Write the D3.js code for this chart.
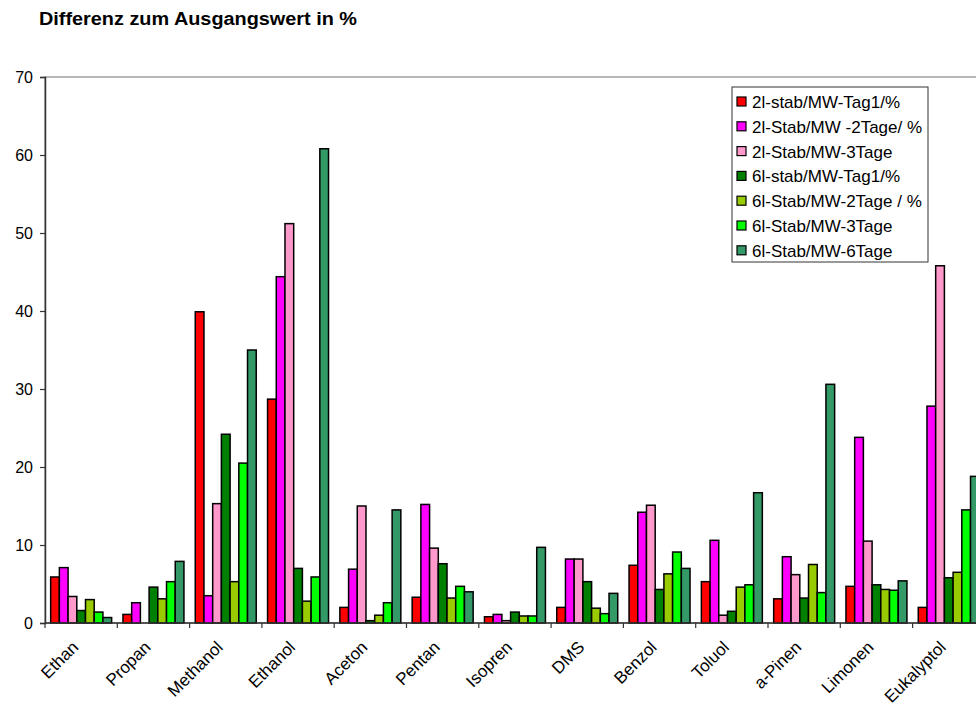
<!DOCTYPE html>
<html>
<head>
<meta charset="utf-8">
<script src="https://cdn.jsdelivr.net/npm/d3@7"></script>
<style>
  html, body { margin: 0; padding: 0; background: #fff; }
  svg { display: block; font-family: Arial, "Liberation Sans", sans-serif; }
</style>
</head>
<body>
<svg id="chart" width="976" height="706"></svg>
<script>
// Substances on the x axis
const categories = ["Ethan", "Propan", "Methanol", "Ethanol", "Aceton", "Pentan", "Isopren",
  "DMS", "Benzol", "Toluol", "a-Pinen", "Limonen", "Eukalyptol"];

// Difference to the starting value in %, one array per series
const s2lTag1  = [5.9, 1.1, 39.9, 28.7, 2.0, 3.3, 0.8, 2.0, 7.4, 5.3, 3.1, 4.7, 2.0];
const s2l2Tage = [7.1, 2.6, 3.5, 44.4, 6.9, 15.2, 1.1, 8.2, 14.2, 10.6, 8.5, 23.8, 27.8];
const s2l3Tage = [3.4, 0, 15.3, 51.2, 15.0, 9.6, 0.3, 8.2, 15.1, 1.0, 6.2, 10.5, 45.8];
const s6lTag1  = [1.6, 4.6, 24.2, 7.0, 0.3, 7.6, 1.4, 5.3, 4.3, 1.5, 3.2, 4.9, 5.8];
const s6l2Tage = [3.0, 3.1, 5.3, 2.8, 1.0, 3.2, 0.9, 1.9, 6.3, 4.6, 7.5, 4.3, 6.5];
const s6l3Tage = [1.4, 5.3, 20.5, 5.9, 2.6, 4.7, 0.9, 1.2, 9.1, 4.9, 3.9, 4.2, 14.5];
const s6l6Tage = [0.7, 7.9, 35.0, 60.8, 14.5, 4.0, 9.7, 3.8, 7.0, 16.7, 30.6, 5.4, 18.8];

const seriesNames = ["2l-stab/MW-Tag1/%", "2l-Stab/MW -2Tage/ %", "2l-Stab/MW-3Tage",
  "6l-stab/MW-Tag1/%", "6l-Stab/MW-2Tage / %", "6l-Stab/MW-3Tage", "6l-Stab/MW-6Tage"];
const seriesValues = [s2lTag1, s2l2Tage, s2l3Tage, s6lTag1, s6l2Tage, s6l3Tage, s6l6Tage];
const seriesColors = ["#ff0000", "#ff00ff", "#ff99cc", "#008000", "#99cc00", "#00ff00", "#339966"];

const yTicks = [0, 10, 20, 30, 40, 50, 60, 70];
const title = "Differenz zum Ausgangswert in %";

const svg = d3.select("#chart");

const plot = { left: 45, top: 77, bottom: 623, catWidth: 72.3 };
plot.right = plot.left + plot.catWidth * categories.length;

const x0 = d3.scaleBand().domain(categories).range([plot.left, plot.right]).padding(0);
const x1 = d3.scaleBand().domain(d3.range(seriesNames.length))
  .range([0, x0.bandwidth()]).paddingInner(0).paddingOuter(0.65);
const y = d3.scaleLinear().domain([0, 70]).range([plot.bottom, plot.top]);

// Title
svg.append("text")
  .attr("x", 39).attr("y", 25)
  .attr("font-size", 17.5).attr("font-weight", "bold")
  .attr("textLength", 318).attr("lengthAdjust", "spacingAndGlyphs")
  .text(title);

// Plot area border
svg.append("rect")
  .attr("x", plot.left).attr("y", plot.top)
  .attr("width", plot.right - plot.left).attr("height", plot.bottom - plot.top)
  .attr("fill", "none").attr("stroke", "#888").attr("stroke-width", 1.2);

// Bars
const groups = svg.append("g").selectAll("g")
  .data(categories)
  .join("g")
  .attr("transform", d => `translate(${x0(d)},0)`);

groups.selectAll("rect")
  .data((d, i) => seriesValues.map((vals, s) => ({ s, v: vals[i] })))
  .join("rect")
  .attr("x", d => x1(d.s))
  .attr("y", d => y(d.v))
  .attr("width", x1.bandwidth())
  .attr("height", d => y(0) - y(d.v))
  .attr("fill", d => seriesColors[d.s])
  .attr("stroke", "#000")
  .attr("stroke-width", 1.5);

// Y axis
const yAxis = d3.axisLeft(y).tickValues(yTicks).tickSize(5).tickPadding(7);
const yg = svg.append("g").attr("transform", `translate(${plot.left},0)`).call(yAxis);
yg.select(".domain").attr("stroke", "#333").attr("stroke-width", 1.5);
yg.selectAll(".tick line").attr("stroke", "#333").attr("stroke-width", 1.2);
yg.selectAll(".tick text").attr("font-size", 16).attr("fill", "#000")
  .attr("font-family", "Arial, 'Liberation Sans', sans-serif");

// X axis: ticks at category boundaries
const xg = svg.append("g");
xg.append("line")
  .attr("x1", plot.left).attr("x2", plot.right)
  .attr("y1", plot.bottom).attr("y2", plot.bottom)
  .attr("stroke", "#333").attr("stroke-width", 1.5);
xg.selectAll("line.tk")
  .data(categories)
  .join("line")
  .attr("class", "tk")
  .attr("x1", d => x0(d)).attr("x2", d => x0(d))
  .attr("y1", plot.bottom).attr("y2", plot.bottom + 5)
  .attr("stroke", "#333").attr("stroke-width", 1.2);

xg.selectAll("text")
  .data(categories)
  .join("text")
  .attr("transform", d => `translate(${x0(d) + x0.bandwidth() / 2 - 6},${plot.bottom + 21}) rotate(-45)`)
  .attr("text-anchor", "end")
  .attr("dy", "0.35em")
  .attr("font-size", 17)
  .text(d => d);

// Legend
const legend = svg.append("g").attr("transform", "translate(732,87)");
legend.append("rect")
  .attr("width", 196).attr("height", 175)
  .attr("fill", "#fff").attr("stroke", "#333").attr("stroke-width", 1);
const items = legend.selectAll("g.item")
  .data(seriesNames)
  .join("g")
  .attr("class", "item")
  .attr("transform", (d, i) => `translate(5,${15 + i * 24.8})`);
items.append("rect")
  .attr("x", 0).attr("y", -5)
  .attr("width", 9).attr("height", 9)
  .attr("fill", (d, i) => seriesColors[i])
  .attr("stroke", "#000").attr("stroke-width", 1.2);
items.append("text")
  .attr("x", 15).attr("y", 0).attr("dy", "0.35em")
  .attr("font-size", 17)
  .text(d => d);
</script>
</body>
</html>
